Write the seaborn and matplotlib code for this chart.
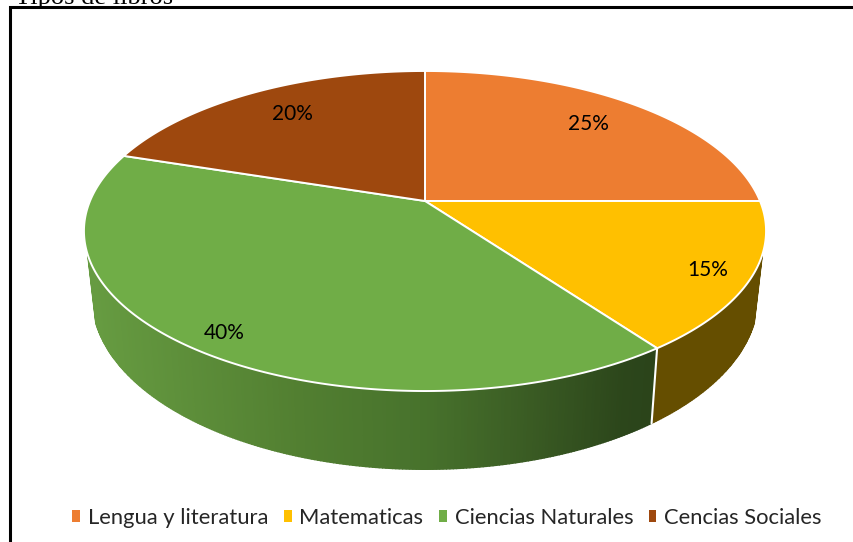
import numpy as np
import matplotlib
matplotlib.use("Agg")
import matplotlib.pyplot as plt
from matplotlib.patches import Patch
import seaborn as sns

# Data
categories = ["Lengua y literatura", "Matematicas", "Ciencias Naturales", "Cencias Sociales"]
shares = [25, 15, 40, 20]
title_text = "Tipos de libros"

# Styles
top_colors = ["#ED7D31", "#FFC000", "#70AD47", "#9E480E"]
wall_stops_x = [100, 300, 425, 520, 620, 660]
wall_stops_c = ["#669B41", "#527F31", "#47722C", "#3B5D24", "#2C461B", "#2A431A"]
wall_flat = {1: "#654E00"}
label_radius = [0.765, 0.89, 0.90, 0.765]
label_nudge = [(-1, -1), (-5, 2), (4, 2), (2, -1)]

sns.set_theme(style="white")
plt.rcParams["font.family"] = ["Lato", "DejaVu Sans"]

fig = plt.figure(figsize=(8.54, 5.42), dpi=100)
ax = fig.add_axes([0, 0, 1, 1])
ax.set_xlim(0, 854)
ax.set_ylim(542, 0)
ax.axis("off")

K = 0.1875
ramp = np.array(sns.color_palette(wall_stops_c, n_colors=len(wall_stops_c)))


def project(theta, r=1.0, cx=425.0, cy=201.0, a=335.0, b=154.4):
    """Perspective view of a disc; theta clockwise from the back, in radians."""
    u, v = r * np.sin(theta), r * np.cos(theta)
    d = 1 + K * v
    return cx + a * u / d, cy - b * v / d


def rim(theta):
    return project(theta, cx=425.0, cy=265.0, a=327.0, b=166.0)


edges = 2 * np.pi * np.concatenate([[0], np.cumsum(shares)]) / sum(shares)
vis_lo, vis_hi = np.radians(109), np.radians(251)

# Side wall
for i in range(len(shares)):
    lo, hi = max(edges[i], vis_lo), min(edges[i + 1], vis_hi)
    if hi <= lo:
        continue
    n = max(int((hi - lo) * 120), 2)
    t = np.linspace(lo, hi, n + 1)
    xt, yt = project(t)
    xb, yb = rim(t)
    for j in range(n):
        xs = [xt[j], xt[j + 1], xb[j + 1], xb[j]]
        ys = [yt[j], yt[j + 1], yb[j + 1], yb[j]]
        if i in wall_flat:
            col = wall_flat[i]
        else:
            xm = (xb[j] + xb[j + 1]) / 2
            col = [np.interp(xm, wall_stops_x, ramp[:, c]) for c in range(3)]
        ax.fill(xs, ys, facecolor=col, edgecolor=col, lw=1.0, zorder=2)
    if vis_lo < edges[i] < vis_hi:
        xa, ya = project(edges[i])
        xc, yc = rim(edges[i])
        ax.plot([xa, xc], [ya, yc], color="white", lw=1.5, zorder=3)

# Top face
for i in range(len(shares)):
    t = np.linspace(edges[i], edges[i + 1], 200)
    x, y = project(t)
    ax.fill(np.r_[425.0, x], np.r_[201.0, y], facecolor=top_colors[i],
            edgecolor="white", lw=1.4, joinstyle="round", zorder=4)

# Percent labels
for i, share in enumerate(shares):
    x, y = project((edges[i] + edges[i + 1]) / 2, r=label_radius[i])
    dx, dy = label_nudge[i]
    ax.text(x + dx, y + dy, f"{share}%", ha="center", va="center", fontsize=15,
            color="black", zorder=5)

# Frame
ax.plot([10.5, 10.5, 854], [542, 7, 7], color="black", lw=2.2, solid_joinstyle="miter", zorder=6)

# Heading above the frame, cut by the top of the picture as in the reference
ax.text(15, 4, title_text, family="Liberation Serif", fontsize=19, color="black",
        ha="left", va="baseline", zorder=7)

# Legend
handles = [Patch(facecolor=c, edgecolor="none") for c in top_colors]
ax.legend(handles, categories, loc="center", bbox_to_anchor=(447 / 854, 1 - 518 / 542),
          ncol=4, frameon=False, fontsize=15.8, handlelength=0.36, handleheight=0.5,
          handletextpad=0.36, columnspacing=0.7, borderpad=0, borderaxespad=0)

fig.savefig("out.png", dpi=100)
